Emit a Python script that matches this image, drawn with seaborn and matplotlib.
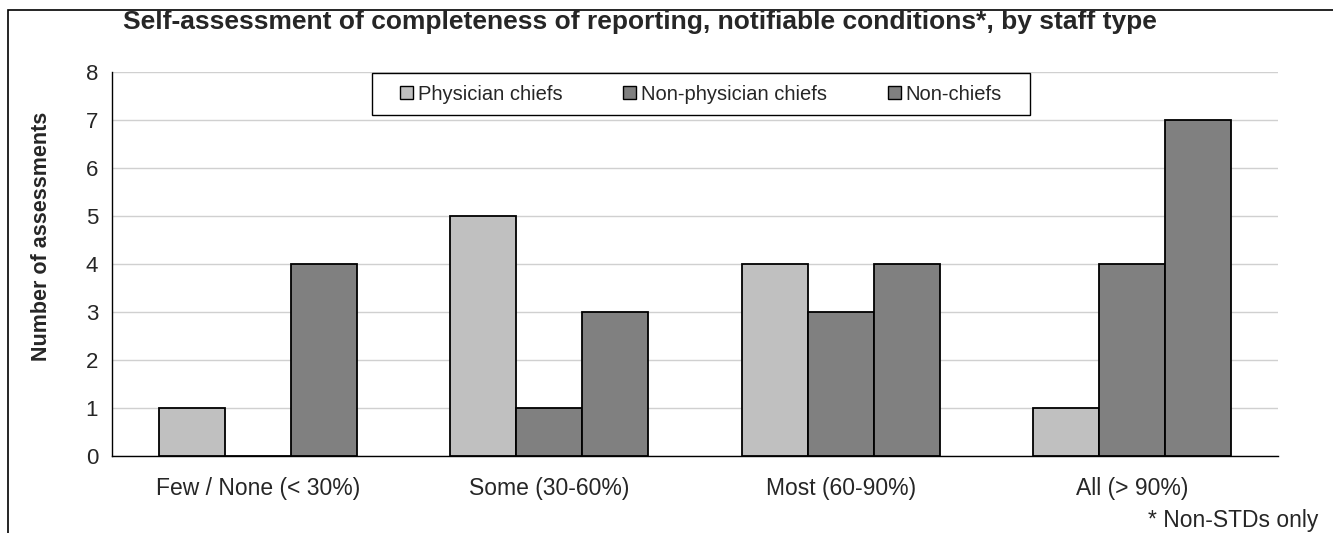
import pandas as pd
import matplotlib.pyplot as plt
import seaborn as sns
from matplotlib.patches import Rectangle

categories = ['Few / None (< 30%)', 'Some (30-60%)', 'Most (60-90%)', 'All (> 90%)']
physician_chiefs = [1, 5, 4, 1]
non_physician_chiefs = [0, 1, 3, 4]
non_chiefs = [4, 3, 4, 7]
series = ['Physician chiefs', 'Non-physician chiefs', 'Non-chiefs']

rows = []
for name, vals in zip(series, [physician_chiefs, non_physician_chiefs, non_chiefs]):
    for cat, v in zip(categories, vals):
        rows.append({'category': cat, 'staff': name, 'count': v})
df = pd.DataFrame(rows)

sns.set_style('white')
plt.rcParams['font.family'] = ['Liberation Sans', 'DejaVu Sans']

fig = plt.figure(figsize=(13.33, 5.33), dpi=100)
ax = fig.add_axes([112/1333, 1 - 456/533, (1278 - 112)/1333, (456 - 72)/533])

palette = {'Physician chiefs': '#C0C0C0', 'Non-physician chiefs': '#808080', 'Non-chiefs': '#808080'}
sns.barplot(data=df, x='category', y='count', hue='staff', hue_order=series,
            palette=palette, width=0.68, edgecolor='black', linewidth=1.3,
            saturation=1, ax=ax, legend=False, zorder=3)

ax.set_ylim(0, 8)
ax.set_xlim(-0.5, 3.5)
ax.set_yticks(range(0, 9))
ax.yaxis.grid(True, color='#D0D0D0', linewidth=1, zorder=0)
ax.set_axisbelow(True)
for s in ['top', 'right']:
    ax.spines[s].set_visible(False)
for s in ['left', 'bottom']:
    ax.spines[s].set_color('black')
    ax.spines[s].set_linewidth(1)

ax.set_xticks(range(4))
ax.set_xticklabels(categories)
ax.set_xticks([-0.5, 0.5, 1.5, 2.5, 3.5], minor=True)
ax.tick_params(axis='x', which='major', length=0, pad=15, labelsize=16.5)
ax.tick_params(axis='x', which='minor', length=6, width=1, direction='out', color='black')
ax.tick_params(axis='y', length=6, width=1, direction='out', color='black', labelsize=16, pad=4)
ax.set_xlabel('')
ax.set_ylabel('')
fig.text(42/1333, 1 - 236/533, 'Number of assessments', rotation=90, ha='center', va='center',
         fontsize=15.5, fontweight='bold')

# legend entries without frame, box drawn separately
handles = [Rectangle((0, 0), 1, 1, facecolor=palette[s], edgecolor='black', linewidth=1) for s in series]
leg = fig.legend(handles, series, ncol=3, loc='center left',
                 bbox_to_anchor=(400/1333, 1 - 94/533), frameon=False,
                 fontsize=14.5, handlelength=0.65, handleheight=0.65, handletextpad=0.25,
                 columnspacing=3.0, borderpad=0, borderaxespad=0)
fig.patches.append(Rectangle((372/1333, 1 - 115/533), (1030 - 372)/1333, 42/533,
                             transform=fig.transFigure, facecolor='white', edgecolor='black',
                             linewidth=1, zorder=4))
leg.set_zorder(5)

fig.text(640/1333, 1 - 22/533, 'Self-assessment of completeness of reporting, notifiable conditions*, by staff type',
         ha='center', va='center', fontsize=19, fontweight='bold')
fig.text(1318/1333, 1 - 521/533, '* Non-STDs only', ha='right', va='center', fontsize=16.5)

fig.patches.append(Rectangle((8/1333, -0.1), 1.1, 1 - 10/533 + 0.1, transform=fig.transFigure,
                             fill=False, edgecolor='black', linewidth=1.2))

fig.savefig('out.png', dpi=100)
